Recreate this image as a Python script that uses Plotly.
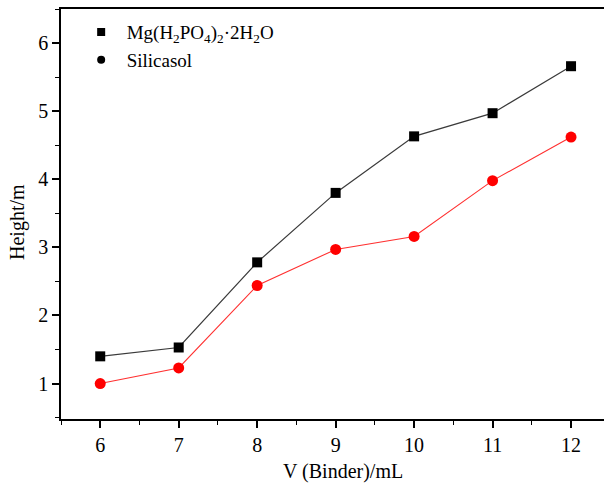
import plotly.graph_objects as go

x_vals = [6, 7, 8, 9, 10, 11, 12]
mg_heights = [1.40, 1.53, 2.78, 3.80, 4.63, 4.97, 5.66]
silica_heights = [1.00, 1.23, 2.44, 2.97, 3.16, 3.98, 4.62]
y_ticks = [1, 2, 3, 4, 5, 6]
mg_name = "Mg(H<sub>2</sub>PO<sub>4</sub>)<sub>2</sub>·2H<sub>2</sub>O"
silica_name = "Silicasol"
x_title = "V (Binder)/mL"
y_title = "Height/m"

FONT = "Liberation Serif, Times New Roman, serif"

fig = go.Figure()
fig.add_trace(go.Scatter(x=x_vals, y=mg_heights, mode="lines+markers",
                         line=dict(color="#3a3a3a", width=1.2),
                         marker=dict(symbol="square", size=10, color="black"),
                         showlegend=False))
fig.add_trace(go.Scatter(x=x_vals, y=silica_heights, mode="lines+markers",
                         line=dict(color="#ff3030", width=1.1),
                         marker=dict(symbol="circle", size=11, color="#ff0000"),
                         showlegend=False))
# legend-only entries (markers only, as in reference)
fig.add_trace(go.Scatter(x=[None], y=[None], mode="markers", name=mg_name,
                         marker=dict(symbol="square", size=8, color="black")))
fig.add_trace(go.Scatter(x=[None], y=[None], mode="markers", name=silica_name,
                         marker=dict(symbol="circle", size=8, color="black")))

axis_common = dict(showline=True, linecolor="black", linewidth=1.6,
                   ticks="outside", ticklen=7, tickwidth=1.6, tickcolor="black",
                   showgrid=False, zeroline=False, automargin=False,
                   tickfont=dict(family=FONT, size=20, color="black"))

fig.update_xaxes(range=[5.5, 12.42], tickvals=x_vals, mirror=True,
                 minor=dict(ticks="outside", ticklen=4, tickwidth=1.4, tickcolor="black", dtick=0.5, tick0=5.5),
                 **axis_common)
fig.update_yaxes(range=[0.48, 6.5], tickvals=y_ticks,
                 minor=dict(ticks="outside", ticklen=4, tickwidth=1.4, tickcolor="black", dtick=0.5, tick0=0.5),
                 **axis_common)

fig.add_annotation(text=x_title, xref="paper", yref="paper", x=(343 - 61) / 543, y=-(471 - 419) / 410,
                   showarrow=False, xanchor="center", yanchor="middle",
                   font=dict(family=FONT, size=20, color="black"))
fig.add_annotation(text=y_title, xref="paper", yref="paper", x=-(61 - 17) / 543, y=(419 - 222) / 410,
                   showarrow=False, xanchor="center", yanchor="middle", textangle=-90,
                   font=dict(family=FONT, size=20, color="black"))

fig.update_layout(width=604, height=484,
                  margin=dict(l=61, r=0, t=9, b=65, autoexpand=False),
                  paper_bgcolor="white", plot_bgcolor="white",
                  legend=dict(x=0.027, y=0.99, xanchor="left", yanchor="top",
                              bgcolor="rgba(0,0,0,0)", tracegroupgap=0, itemwidth=41,
                              font=dict(family=FONT, size=19, color="black")))

fig.write_html("out.html", config={"displayModeBar": False},
               post_script="document.body.style.margin='0';document.body.style.overflow='hidden';")
